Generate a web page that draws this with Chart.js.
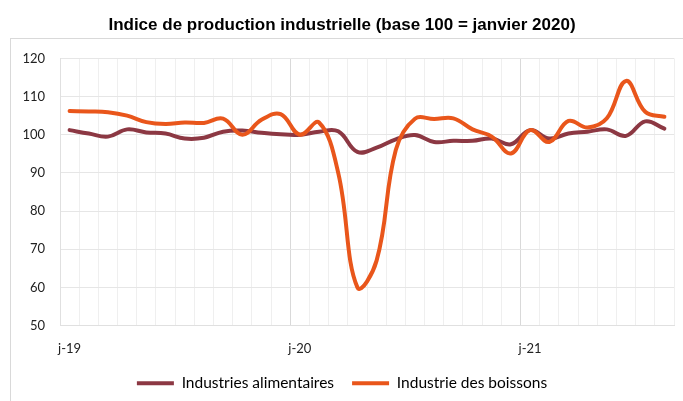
<!DOCTYPE html>
<html lang="fr">
<head>
  <meta charset="UTF-8">
  <title>Indice de production industrielle</title>
  <style>
    body, html {
      margin: 0;
      padding: 0;
      background-color: #ffffff;
    }

    #chart-container {
      width: 683px;
      height: 401px;
      position: relative;
    }
  </style>
</head>
<body>
  <div id="chart-container">
    <canvas id="ipiChart"></canvas>
  </div>

  <script src="https://cdn.jsdelivr.net/npm/chart.js"></script>
  <script>
    // months jan 2019 -> aug 2021 (initial letter + year, as on the axis)
    const months = [
      'j-19', 'f-19', 'm-19', 'a-19', 'm-19', 'j-19', 'j-19', 'a-19', 's-19', 'o-19', 'n-19', 'd-19',
      'j-20', 'f-20', 'm-20', 'a-20', 'm-20', 'j-20', 'j-20', 'a-20', 's-20', 'o-20', 'n-20', 'd-20',
      'j-21', 'f-21', 'm-21', 'a-21', 'm-21', 'j-21', 'j-21', 'a-21'
    ];

    const alimentaires = [
      101.2, 100.3, 99.5, 101.4, 100.6, 100.3, 99.0, 99.2, 100.8, 101.1, 100.5, 100.1,
      100.0, 100.8, 100.9, 95.5, 96.6, 98.8, 99.9, 98.1, 98.4, 98.4, 99.0, 97.5,
      101.2, 99.0, 100.3, 100.8, 101.4, 99.7, 103.5, 101.6
    ];

    const boissons = [
      106.2, 106.1, 105.9, 105.0, 103.3, 102.8, 103.2, 103.1, 104.2, 100.0, 103.9, 105.4,
      100.0, 103.2, 90.0, 60.0, 67.0, 96.0, 104.2, 104.1, 104.3, 101.4, 99.5, 95.1,
      101.2, 98.1, 103.6, 101.9, 104.3, 114.1, 106.0, 104.7
    ];

    const yTicks = [50, 60, 70, 80, 90, 100, 110, 120];

    // light frame around the plot, like the spreadsheet chart border
    const framePlugin = {
      id: 'frame',
      beforeDraw(chart) {
        const ctx = chart.ctx;
        ctx.save();
        ctx.fillStyle = '#ffffff';
        ctx.fillRect(0, 0, chart.width, chart.height);
        ctx.strokeStyle = '#d9d9d9';
        ctx.lineWidth = 1;
        ctx.strokeRect(10.5, 38.5, 700, 400);
        ctx.restore();
      }
    };

    const ctx = document.getElementById('ipiChart').getContext('2d');
    new Chart(ctx, {
      type: 'line',
      data: {
        labels: months,
        datasets: [
          {
            label: 'Industries alimentaires',
            data: alimentaires,
            borderColor: '#8c3843',
            backgroundColor: '#8c3843',
            borderWidth: 4,
            borderCapStyle: 'round',
            borderJoinStyle: 'round',
            pointRadius: 0,
            tension: 0.4,
            order: 2
          },
          {
            label: 'Industrie des boissons',
            data: boissons,
            borderColor: '#e9561b',
            backgroundColor: '#e9561b',
            borderWidth: 4,
            borderCapStyle: 'round',
            borderJoinStyle: 'round',
            pointRadius: 0,
            tension: 0.4,
            order: 1
          }
        ]
      },
      options: {
        responsive: true,
        maintainAspectRatio: false,
        animation: false,
        layout: {
          padding: { left: 10, right: 9, top: 0, bottom: 0 }
        },
        scales: {
          x: {
            offset: true,
            grid: {
              offset: true,
              drawTicks: false,
              color: (c) => (c.index % 12 === 0 ? '#d9d9d9' : '#efefef')
            },
            border: { color: '#e0e0e0' },
            ticks: {
              autoSkip: false,
              maxRotation: 0,
              padding: 16,
              color: '#222',
              font: { family: 'Lato', size: 13 },
              callback: (val, i) => (i % 12 === 0 ? months[i] : '')
            },
            afterFit: (s) => { s.height = 32; }
          },
          y: {
            min: 50,
            max: 120,
            afterBuildTicks: (s) => { s.ticks = yTicks.map(v => ({ value: v })); },
            grid: {
              drawTicks: false,
              color: '#e6e6e6'
            },
            border: { color: '#e0e0e0' },
            ticks: {
              padding: 15,
              color: '#222',
              font: { family: 'Lato', size: 13 }
            },
            afterFit: (s) => { s.width = 50; }
          }
        },
        plugins: {
          title: {
            display: true,
            text: 'Indice de production industrielle (base 100 = janvier 2020)',
            color: '#000',
            font: { family: 'Liberation Sans', size: 17, weight: 'bold' },
            padding: { top: 15, bottom: 23 }
          },
          legend: {
            position: 'bottom',
            labels: {
              usePointStyle: true,
              pointStyle: 'line',
              pointStyleWidth: 37,
              boxHeight: 15,
              padding: 18,
              color: '#000',
              font: { family: 'Lato', size: 15.5 },
              sort: (a, b) => a.datasetIndex - b.datasetIndex
            }
          },
          tooltip: { enabled: false }
        }
      },
      plugins: [framePlugin]
    });
  </script>
</body>
</html>
